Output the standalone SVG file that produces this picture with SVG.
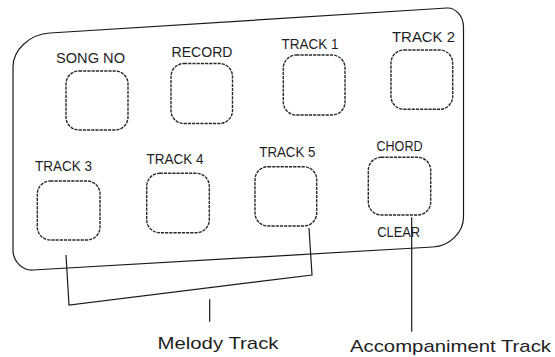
<svg xmlns="http://www.w3.org/2000/svg" width="555" height="357" viewBox="0 0 555 357">
<style>
.btn{fill:none;stroke:#2a2a2a;stroke-width:1.4;stroke-dasharray:3.2 1}
.lbl{font-family:"Liberation Sans",Arial,sans-serif;font-size:14.5px;fill:#1e1e1e;text-anchor:middle}
.big{font-family:"Liberation Sans",Arial,sans-serif;font-size:17px;fill:#1e1e1e;text-anchor:middle}
.ln{fill:none;stroke:#1a1a1a;stroke-width:1.2}
</style>
<rect width="555" height="357" fill="#fff"/>
<g id="panel">
<path class="ln" d="M13,67 C13,49.6 29.6,34.3 50,33 L447,8 C455.8,7.5 463.5,16.5 463.5,27 L463.5,217 C463.5,232.4 449.8,246 433,247 L33,270 C22,270.6 13,261 13,250 Z"/>
</g>
<g id="song-no"><rect class="btn" x="66" y="71" width="62" height="59" rx="13"/><text class="lbl" x="90.5" y="63.3" textLength="69" lengthAdjust="spacingAndGlyphs" style="font-size:15px">SONG NO</text></g>
<g id="record"><rect class="btn" x="171" y="63.5" width="61.5" height="60" rx="13"/><text class="lbl" x="202" y="56.7" textLength="61" lengthAdjust="spacingAndGlyphs" style="font-size:15px">RECORD</text></g>
<g id="track1"><rect class="btn" x="283.3" y="55" width="61.7" height="60" rx="13"/><text class="lbl" x="310" y="49.3" textLength="57" lengthAdjust="spacingAndGlyphs">TRACK 1</text></g>
<g id="track2"><rect class="btn" x="391" y="50" width="61.7" height="59.3" rx="13"/><text class="lbl" x="423.5" y="42.3" textLength="63" lengthAdjust="spacingAndGlyphs" style="font-size:15px">TRACK 2</text></g>
<g id="track3"><rect class="btn" x="37.3" y="181" width="62.7" height="59" rx="13"/><text class="lbl" x="63.5" y="170.7" textLength="57" lengthAdjust="spacingAndGlyphs">TRACK 3</text></g>
<g id="track4"><rect class="btn" x="146.7" y="173.3" width="62.6" height="59.4" rx="13"/><text class="lbl" x="175" y="164" textLength="57" lengthAdjust="spacingAndGlyphs">TRACK 4</text></g>
<g id="track5"><rect class="btn" x="255" y="166.7" width="61.7" height="59.3" rx="13"/><text class="lbl" x="287.3" y="156.7" textLength="56" lengthAdjust="spacingAndGlyphs">TRACK 5</text></g>
<g id="chord"><rect class="btn" x="368.3" y="157.3" width="62.4" height="57.7" rx="13"/><text class="lbl" x="399.5" y="150.5" textLength="46" lengthAdjust="spacingAndGlyphs">CHORD</text><text class="lbl" x="398.7" y="236.7" textLength="43" lengthAdjust="spacingAndGlyphs">CLEAR</text></g>
<g id="melody-track"><text class="big" x="218" y="349" textLength="121" lengthAdjust="spacingAndGlyphs">Melody Track</text></g>
<g id="accompaniment-track"><text class="big" x="450.5" y="351.7" textLength="201" lengthAdjust="spacingAndGlyphs">Accompaniment Track</text></g>
<g id="connectors">
<polyline class="ln" points="66,255 69,305 312,275 309,228"/>
<line class="ln" x1="209.7" y1="299.3" x2="209.7" y2="321.7"/>
<line class="ln" x1="411.7" y1="217.3" x2="411.7" y2="331.7"/>
</g>
</svg>
